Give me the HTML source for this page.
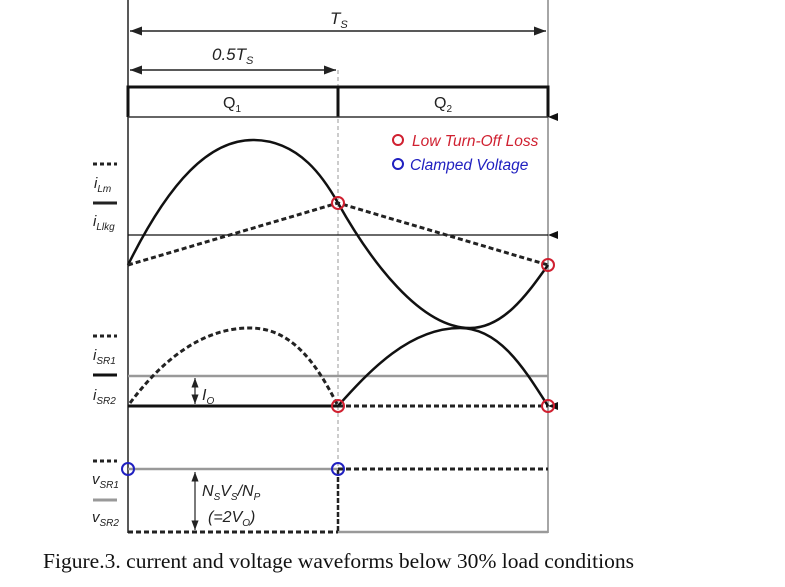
<!DOCTYPE html>
<html><head><style>body{margin:0;background:#fff}svg{display:block}</style></head><body>
<svg width="785" height="587" xmlns="http://www.w3.org/2000/svg" font-family="Liberation Sans, sans-serif">
<defs><marker id="a" markerWidth="8" markerHeight="6" refX="8" refY="3" orient="auto-start-reverse"><path d="M0,0L8,3L0,6z" fill="#222"/></marker></defs>
<line x1="128" y1="0" x2="128" y2="533" stroke="#222" stroke-width="1.5"/>
<line x1="548" y1="0" x2="548" y2="533" stroke="#888" stroke-width="1.5"/>
<line x1="338" y1="70" x2="338" y2="470" stroke="#999" stroke-width="1" stroke-dasharray="4,3"/>
<line x1="130" y1="31" x2="546" y2="31" stroke="#222" stroke-width="1.5" marker-start="url(#a)" marker-end="url(#a)"/>
<text x="330" y="24" font-size="17" font-style="italic" fill="#222">T<tspan font-size="11" dy="4">S</tspan></text>
<line x1="130" y1="70" x2="336" y2="70" stroke="#222" stroke-width="1.5" marker-start="url(#a)" marker-end="url(#a)"/>
<text x="212" y="60" font-size="17" font-style="italic" fill="#222">0.5T<tspan font-size="11" dy="4">S</tspan></text>
<path d="M128,117V87H548V117M338,87V117" fill="none" stroke="#111" stroke-width="3"/>
<line x1="128" y1="117" x2="548" y2="117" stroke="#333" stroke-width="1.5"/>
<path d="M548,117l10,-4v8z" fill="#111"/>
<text x="223" y="108" font-size="16" fill="#222">Q<tspan font-size="10" dy="4">1</tspan></text>
<text x="434" y="108" font-size="16" fill="#222">Q<tspan font-size="10" dy="4">2</tspan></text>
<circle cx="398" cy="140" r="5" fill="none" stroke="#d02030" stroke-width="2"/>
<text x="412" y="146" font-size="15.5" font-style="italic" fill="#d02030">Low Turn-Off Loss</text>
<circle cx="398" cy="164" r="5" fill="none" stroke="#2020c0" stroke-width="2"/>
<text x="410" y="170" font-size="15.5" font-style="italic" fill="#2020c0">Clamped Voltage</text>
<line x1="93" y1="164" x2="117" y2="164" stroke="#222" stroke-width="3" stroke-dasharray="4,3"/>
<text x="94" y="188" font-size="15" font-style="italic" fill="#222">i<tspan font-size="10" dy="4">Lm</tspan></text>
<line x1="93" y1="203" x2="117" y2="203" stroke="#222" stroke-width="3"/>
<text x="93" y="226" font-size="15" font-style="italic" fill="#222">i<tspan font-size="10" dy="4">Llkg</tspan></text>
<line x1="128" y1="235" x2="548" y2="235" stroke="#111" stroke-width="1.2"/>
<path d="M548,235l10,-4v8z" fill="#111"/>
<path d="M128,265C170,180 210,140 253,140C300,140 325,180 338,203C370,260 420,328 470,328C505,328 530,290 548,265" fill="none" stroke="#111" stroke-width="2.5"/>
<path d="M128,265L338,203L548,265" fill="none" stroke="#222" stroke-width="3" stroke-dasharray="5,3"/>
<circle cx="338" cy="203" r="6" fill="none" stroke="#d02030" stroke-width="2"/>
<circle cx="548" cy="265" r="6" fill="none" stroke="#d02030" stroke-width="2"/>
<line x1="93" y1="336" x2="117" y2="336" stroke="#222" stroke-width="3" stroke-dasharray="4,3"/>
<text x="93" y="360" font-size="15" font-style="italic" fill="#222">i<tspan font-size="10" dy="4">SR1</tspan></text>
<line x1="93" y1="375" x2="117" y2="375" stroke="#111" stroke-width="3"/>
<text x="93" y="400" font-size="15" font-style="italic" fill="#222">i<tspan font-size="10" dy="4">SR2</tspan></text>
<line x1="128" y1="376" x2="548" y2="376" stroke="#999" stroke-width="2.5"/>
<line x1="128" y1="406" x2="338" y2="406" stroke="#111" stroke-width="3"/>
<line x1="338" y1="406" x2="548" y2="406" stroke="#222" stroke-width="3" stroke-dasharray="5,3"/>
<path d="M548,406l10,-4v8z" fill="#111"/>
<path d="M130,403C170,350 210,328 250,328C290,328 315,360 338,406" fill="none" stroke="#222" stroke-width="3" stroke-dasharray="5,3"/>
<path d="M338,406C370,370 410,328 460,328C500,328 525,370 548,406" fill="none" stroke="#111" stroke-width="2.5"/>
<line x1="195" y1="378" x2="195" y2="404" stroke="#222" stroke-width="1.2" marker-start="url(#a)" marker-end="url(#a)"/>
<text x="202" y="400" font-size="16" font-style="italic" fill="#222">I<tspan font-size="10" dy="4">O</tspan></text>
<circle cx="338" cy="406" r="6" fill="none" stroke="#d02030" stroke-width="2"/>
<circle cx="548" cy="406" r="6" fill="none" stroke="#d02030" stroke-width="2"/>
<line x1="93" y1="461" x2="117" y2="461" stroke="#222" stroke-width="3" stroke-dasharray="4,3"/>
<text x="92" y="484" font-size="15" font-style="italic" fill="#222">v<tspan font-size="10" dy="4">SR1</tspan></text>
<line x1="93" y1="500" x2="117" y2="500" stroke="#999" stroke-width="3"/>
<text x="92" y="522" font-size="15" font-style="italic" fill="#222">v<tspan font-size="10" dy="4">SR2</tspan></text>
<line x1="128" y1="469" x2="338" y2="469" stroke="#999" stroke-width="2.5"/>
<line x1="338" y1="469" x2="548" y2="469" stroke="#222" stroke-width="3" stroke-dasharray="5,3"/>
<line x1="128" y1="532" x2="338" y2="532" stroke="#222" stroke-width="3" stroke-dasharray="5,3"/>
<line x1="338" y1="532" x2="548" y2="532" stroke="#999" stroke-width="2.5"/>
<line x1="338" y1="470" x2="338" y2="532" stroke="#222" stroke-width="2.5" stroke-dasharray="5,2"/>
<line x1="195" y1="472" x2="195" y2="530" stroke="#222" stroke-width="1.2" marker-start="url(#a)" marker-end="url(#a)"/>
<text x="202" y="496" font-size="16" font-style="italic" fill="#222">N<tspan font-size="10" dy="4">S</tspan><tspan dy="-4">V</tspan><tspan font-size="10" dy="4">S</tspan><tspan dy="-4">/N</tspan><tspan font-size="10" dy="4">P</tspan></text>
<text x="208" y="522" font-size="16" font-style="italic" fill="#222">(=2V<tspan font-size="10" dy="4">O</tspan><tspan dy="-4">)</tspan></text>
<circle cx="128" cy="469" r="6" fill="none" stroke="#2020c0" stroke-width="2"/>
<circle cx="338" cy="469" r="6" fill="none" stroke="#2020c0" stroke-width="2"/>
<text x="43" y="568" font-size="21" font-family="Liberation Serif, serif" fill="#111" textLength="591" lengthAdjust="spacingAndGlyphs">Figure.3. current and voltage waveforms below 30% load conditions</text>
</svg>
</body></html>
